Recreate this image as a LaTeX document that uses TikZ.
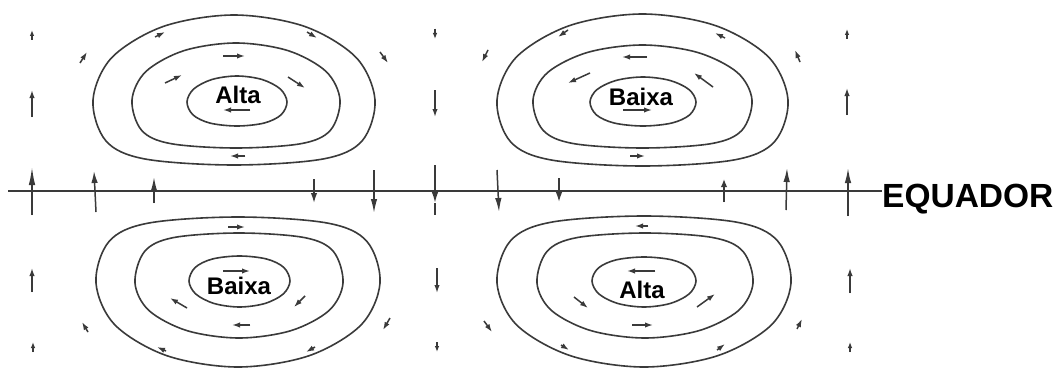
\documentclass[tikz,border=0pt]{standalone}
\usepackage{fontspec}
\setmainfont{Liberation Sans}
\usetikzlibrary{arrows.meta}
\definecolor{ink}{RGB}{58,58,58}
\tikzset{
  contour/.style={draw=ink, line width=1.6pt},
  wind/.style={draw=ink, fill=ink, line width=1.5pt, -{Latex[length=8pt,width=5.4pt]}},
  tinywind/.style={draw=ink, fill=ink, line width=1.5pt, -{Latex[length=6pt,width=4.6pt]}},
  eqwind/.style={draw=ink, fill=ink, line width=1.5pt, -{Latex[length=#1,width=6.5pt]}},
  eqline/.style={draw=ink, line width=1.5pt},
  lab/.style={font=\bfseries\fontsize{24}{24}\selectfont, text=black, inner sep=0pt, anchor=base},
  eqlab/.style={font=\bfseries\fontsize{33.5}{34}\selectfont, text=black, inner sep=0pt, anchor=base west},
}
% #1 cx, #2 cy, #3 half width, #4 dome extent, #5 flat extent, #6 +1 dome up / -1 dome down, #7 squareness of flat side (0..1)
\newcommand\wcontour[7]{%
\draw[contour] plot[smooth cycle, tension=0.55] coordinates {
 ({#1+#3},{#2})
 ({#1+0.866*#3},{#2-(#6)*0.5*#4})
 ({#1+0.5*#3},{#2-(#6)*0.866*#4})
 ({#1},{#2-(#6)*#4})
 ({#1-0.5*#3},{#2-(#6)*0.866*#4})
 ({#1-0.866*#3},{#2-(#6)*0.5*#4})
 ({#1-#3},{#2})
 ({#1-(0.866+0.042*#7)*#3},{#2+(#6)*(0.5+0.13*#7)*#5})
 ({#1-(0.5+0.13*#7)*#3},{#2+(#6)*(0.866+0.042*#7)*#5})
 ({#1},{#2+(#6)*#5})
 ({#1+(0.5+0.13*#7)*#3},{#2+(#6)*(0.866+0.042*#7)*#5})
 ({#1+(0.866+0.042*#7)*#3},{#2+(#6)*(0.5+0.13*#7)*#5})
};}
\begin{document}
\begin{tikzpicture}[x=1pt,y=-1pt]
\fill[white] (0,0) rectangle (1064,369);
\useasboundingbox (0,0) rectangle (1064,369);

% ---- contours ----
% top-left (Alta)
\wcontour{234}{100}{141}{85}{65}{1}{1}
\wcontour{236}{100}{104}{57}{48}{1}{1}
\wcontour{237}{102}{50}{26}{24}{1}{0.3}
% top-right (Baixa)
\wcontour{642.5}{100}{145.5}{86}{66}{1}{1}
\wcontour{642.5}{100}{109.5}{55}{48}{1}{1}
\wcontour{643}{102}{53}{25}{24}{1}{0.3}
% bottom-left (Baixa)
\wcontour{238}{283}{142}{84}{66}{-1}{1}
\wcontour{239}{283}{104}{55}{50}{-1}{1}
\wcontour{239.5}{281}{50.5}{26}{25}{-1}{0.3}
% bottom-right (Alta)
\wcontour{644}{283}{147}{84}{67}{-1}{1}
\wcontour{645}{283}{108}{55}{50}{-1}{1}
\wcontour{644}{281}{52}{26}{24}{-1}{0.3}

% ---- labels ----
\node[lab] (a1) at (238,103) {Alta};
\node[lab] (b1) at (641,105) {Baixa};
\node[lab] (b2) at (239,294) {Baixa};
\node[lab] (a2) at (642,298) {Alta};

% ---- equator ----
\node[eqlab] (eq) at (882,207) {EQUADOR};
\coordinate (w) at (8,191);
\draw[eqline] (w) -- (w -| eq.west);

% equator arrows
\draw[eqwind=18pt] (32,215) -- (32,167);
\draw[eqwind=12pt] (96,212) -- (94,171);
\draw[eqwind=14pt] (154,203) -- (154,177);
\draw[eqwind=10pt] (314,179) -- (314,203);
\draw[eqwind=14pt] (374,170) -- (374,213);
\draw[eqwind=11pt] (435,165) -- (435,203);
\draw[eqline] (435,203) -- (435,215);
\draw[eqwind=14pt] (497,170) -- (499,212);
\draw[eqwind=10pt] (559,178) -- (559,202);
\draw[eqwind=8pt] (724,202) -- (724,179);
\draw[eqwind=14pt] (786,210) -- (787,168);
\draw[eqwind=15pt] (848,216) -- (848,168);

% ---- winds, top-left (Alta, clockwise) ----
\draw[tinywind] (32,40) -- (32,30);
\draw[wind] (80,63) -- (87,52);
\draw[wind] (32,117) -- (32,90);
\draw[wind] (155,37) -- (165,32);
\draw[wind] (307,32) -- (317,38);
\draw[wind] (223,56) -- (245,56);
\draw[wind] (165,83) -- (182,75);
\draw[wind] (288,77) -- (305,88);
\draw[wind] (245,156) -- (230,156);
\draw[wind] (250,110) -- (223,110);
\draw[wind] (380,52) -- (388,63);
\draw[tinywind] (435,29) -- (435,39);
\draw[wind] (435,90) -- (435,117);

% ---- winds, top-right (Baixa, counter-clockwise) ----
\draw[wind] (488,50) -- (482,62);
\draw[wind] (568,30) -- (558,37);
\draw[wind] (725,38) -- (715,33);
\draw[wind] (647,57) -- (622,57);
\draw[wind] (590,73) -- (568,83);
\draw[wind] (713,87) -- (694,73);
\draw[wind] (623,110) -- (652,110);
\draw[wind] (630,156) -- (645,156);
\draw[wind] (800,62) -- (795,50);
\draw[tinywind] (847,39) -- (847,29);
\draw[wind] (847,115) -- (847,88);

% ---- winds, bottom-left (Baixa, clockwise) ----
\draw[wind] (32,292) -- (32,268);
\draw[tinywind] (33,352) -- (33,342);
\draw[wind] (228,227) -- (245,227);
\draw[wind] (223,271) -- (250,271);
\draw[wind] (187,308) -- (170,298);
\draw[wind] (305,296) -- (294,307);
\draw[wind] (250,325) -- (232,325);
\draw[wind] (88,332) -- (82,322);
\draw[wind] (390,318) -- (383,330);
\draw[wind] (166,351) -- (157,347);
\draw[wind] (315,347) -- (306,352);
\draw[wind] (437,268) -- (437,293);
\draw[tinywind] (437,342) -- (437,352);

% ---- winds, bottom-right (Alta, counter-clockwise) ----
\draw[wind] (648,226) -- (635,226);
\draw[wind] (655,271) -- (627,271);
\draw[wind] (574,297) -- (588,308);
\draw[wind] (697,307) -- (715,294);
\draw[wind] (632,325) -- (653,325);
\draw[wind] (484,321) -- (492,332);
\draw[wind] (797,329) -- (802,319);
\draw[wind] (561,345) -- (569,350);
\draw[wind] (717,350) -- (725,344);
\draw[wind] (850,293) -- (850,268);
\draw[tinywind] (850,352) -- (850,342);
\end{tikzpicture}
\end{document}
